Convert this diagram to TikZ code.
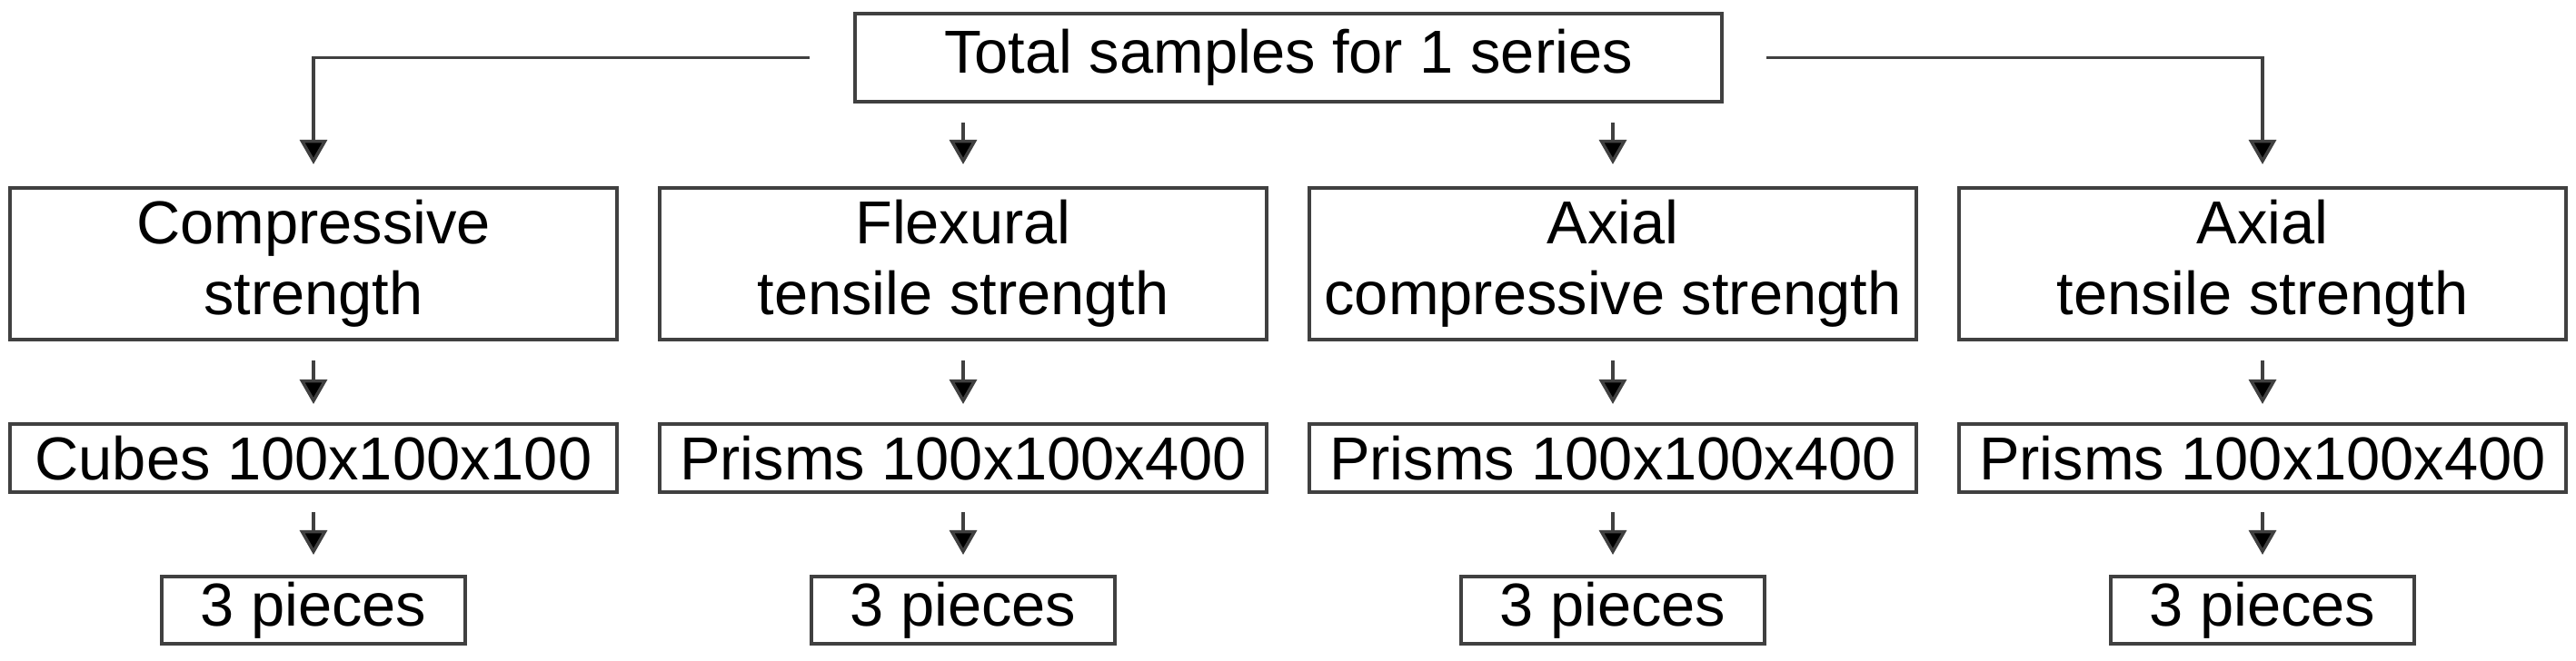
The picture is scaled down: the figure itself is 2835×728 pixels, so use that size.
\documentclass[tikz,border=0pt]{standalone}
\usepackage{fontspec}
\setmainfont{Liberation Sans}
\usetikzlibrary{arrows.meta}
\definecolor{edge}{gray}{0.25}
\begin{document}
\begin{tikzpicture}[x=0.01cm,y=-0.01cm,
  box/.style={draw=edge, line width=0.04cm, inner sep=0pt, align=center,
    font=\fontsize{19}{22.2}\selectfont, text=black},
  topbox/.style={box, minimum width=9.54cm, minimum height=0.97cm},
  bigbox/.style={box, minimum width=6.68cm, minimum height=1.67cm},
  midbox/.style={box, minimum width=6.68cm, minimum height=0.75cm},
  smallbox/.style={box, minimum width=3.33cm, minimum height=0.74cm},
  arr/.style={draw=edge, line width=0.035cm, -{Triangle[width=0.3cm,length=0.27cm,fill=black]}}
]
\useasboundingbox[fill=white] (0,0) rectangle (2835,728);

\node[topbox] (top) at (1418,63.5) {Total samples for 1 series};

\node[bigbox] (b1) at (345,290.5) {Compressive\\strength};
\node[bigbox] (b2) at (1060,290.5) {Flexural\\tensile strength};
\node[bigbox] (b3) at (1775,290.5) {Axial\\compressive strength};
\node[bigbox] (b4) at (2490,290.5) {Axial\\tensile strength};

\node[midbox] (c1) at (345,504.5) {Cubes 100x100x100};
\node[midbox] (c2) at (1060,504.5) {Prisms 100x100x400};
\node[midbox] (c3) at (1775,504.5) {Prisms 100x100x400};
\node[midbox] (c4) at (2490,504.5) {Prisms 100x100x400};

\node[smallbox] (d1) at (345,672) {3 pieces};
\node[smallbox] (d2) at (1060,672) {3 pieces};
\node[smallbox] (d3) at (1775,672) {3 pieces};
\node[smallbox] (d4) at (2490,672) {3 pieces};

\draw[arr, shorten >=0.24cm] ([xshift=-0.48cm]top.west) -| (b1.north);
\draw[arr, shorten >=0.24cm] ([xshift=0.47cm]top.east) -| (b4.north);
\draw[arr, shorten <=0.21cm, shorten >=0.24cm] (top.south -| b2.north) -- (b2.north);
\draw[arr, shorten <=0.21cm, shorten >=0.24cm] (top.south -| b3.north) -- (b3.north);

\foreach \i in {1,2,3,4}{
  \draw[arr, shorten <=0.21cm, shorten >=0.20cm] (b\i.south) -- (c\i.north);
  \draw[arr, shorten <=0.20cm, shorten >=0.22cm] (c\i.south) -- (d\i.north);
}
\end{tikzpicture}
\end{document}
